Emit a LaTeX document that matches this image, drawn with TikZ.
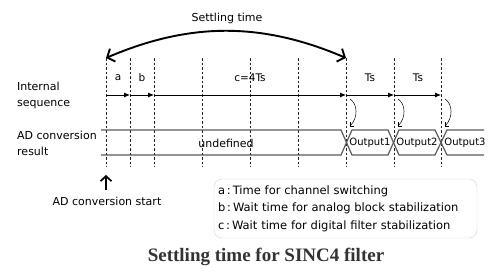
\documentclass[tikz,border=0pt]{standalone}
\usepackage{fontspec}
\setmainfont{DejaVu Sans}
\newfontfamily\titlefont{Liberation Serif}
\usepackage{tikz}
\usetikzlibrary{arrows.meta, positioning, calc}
\definecolor{busgray}{HTML}{5A5A5A}
\definecolor{boxgray}{HTML}{D0D0D0}
\definecolor{titlegray}{HTML}{333333}

\begin{document}
\begin{tikzpicture}[x=1pt, y=-1pt,
  lbl/.style={font=\fontsize{11}{16}\selectfont, align=left, inner sep=0pt},
  tick/.style={font=\fontsize{10.5}{12}\selectfont, inner sep=0pt},
  busText/.style={font=\fontsize{10}{12}\selectfont, inner sep=0pt},
  guide/.style={dash pattern=on 2.5pt off 2pt, line width=0.5pt, black!85},
  seq/.style={-{Latex[length=6pt,width=5pt]}, line width=0.8pt},
  bus/.style={busgray, line width=1.2pt},
  latch/.style={-{Straight Barb[length=2.5pt,width=5pt]}, line width=0.5pt},
  settling/.style={{Straight Barb[length=6pt,width=14pt]}-{Straight Barb[length=6pt,width=14pt]}, line width=1.9pt},
  trigger/.style={-{Straight Barb[length=5pt,width=11pt]}, line width=1.7pt},
]
  \useasboundingbox (0,0) rectangle (496,279);

  % time marks
  \foreach \n/\x in {0/106,1/130,2/154,3/202,4/250,5/298,6/346,7/394,8/441} {
    \coordinate (top\n) at (\x,58);
    \coordinate (bot\n) at (\x,167);
    \coordinate (seq\n) at (\x,95);
    \draw[guide] (top\n) -- (bot\n);
  }

  % settling time
  \node[tick, font=\fontsize{11}{13}\selectfont] (settle) at (227,18) {Settling time};
  \draw[settling] (top0) .. controls (190,22) and (262,22) .. (top6);

  % internal sequence
  \node[lbl, anchor=west] (intseq) at (17,95.5) {Internal\\sequence};
  \node[tick] (lba) at (118,78) {a};
  \node[tick] (lbb) at (142,78) {b};
  \node[tick] (lbc) at (250,78) {c=4Ts};
  \node[tick] (lbt1) at (370,78) {Ts};
  \node[tick] (lbt2) at (418,78) {Ts};
  \draw[seq] (seq0) -- (seq1);
  \draw[seq] (seq1) -- (seq2);
  \draw[seq] (seq2) -- (seq6);
  \draw[seq] (seq6) -- (seq7);
  \draw[seq] (seq7) -- (seq8);
  \foreach \n in {6,7,8}
    \draw[latch] ([xshift=4pt,yshift=-4pt]seq\n) .. controls +(8,5) and +(8,-8) .. ([xshift=4pt,yshift=-31pt]seq\n);

  % AD conversion result
  \node[lbl, anchor=west] (adres) at (17,143.5) {AD conversion\\result};
  \draw[bus] (101,130) -- (341,130) -- (352,155) -- (388,155) -- (399,130) -- (435,130) -- (447,155) -- (484,155);
  \draw[bus] (101,155) -- (341,155) -- (352,130) -- (388,130) -- (399,155) -- (435,155) -- (447,130) -- (484,130);
  \node[busText, font=\fontsize{11}{13}\selectfont] (undef) at (226,143) {undefined};
  \node[busText] (out1) at (370,143) {Output1};
  \node[busText] (out2) at (417,143) {Output2};
  \node[busText] (out3) at (465,143) {Output3};

  % start trigger
  \coordinate (trig) at (106,175);
  \coordinate (trigbase) at (106,190);
  \draw[trigger] (trigbase) -- (trig);
  \node[lbl] (adstart) at (107,201) {AD conversion start};

  % legend
  \node[draw=boxgray, rounded corners=8pt, minimum width=263pt, minimum height=59pt,
        text width=255pt, align=left, inner sep=4pt, font=\fontsize{11.5}{17.5}\selectfont]
        (legend) at (345.5,208.5)
        {a\,:\,Time for channel switching\\b\,:\,Wait time for analog block stabilization\\c\,:\,Wait time for digital filter stabilization};

  \node[text=titlegray, font=\titlefont\bfseries\fontsize{19}{22}\selectfont] (title) at (266,257) {Settling time for SINC4 filter};

\end{tikzpicture}
\end{document}
